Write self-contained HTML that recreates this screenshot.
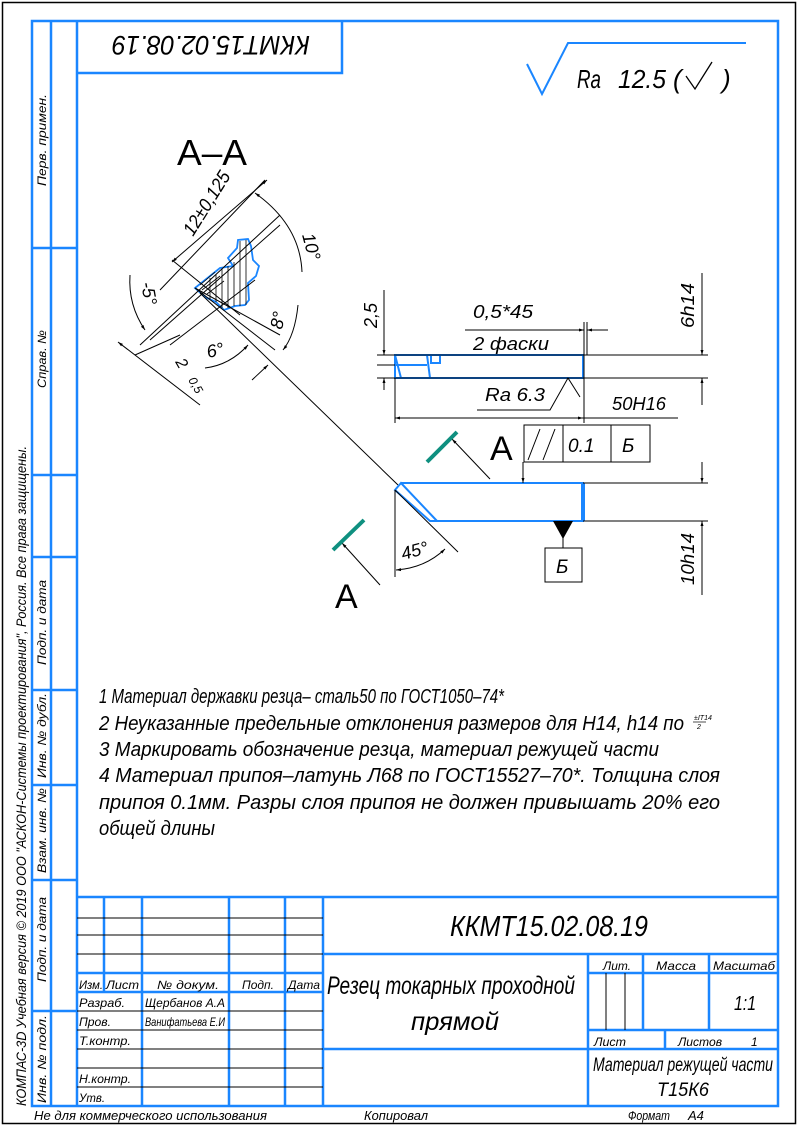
<!DOCTYPE html>
<html><head><meta charset="utf-8"><style>
html,body{margin:0;padding:0;background:#fff}
svg{display:block}
text{font-family:"Liberation Sans","DejaVu Sans",sans-serif;font-style:italic;fill:#000}
</style></head><body>
<svg width="798" height="1127" viewBox="0 0 798 1127" xmlns="http://www.w3.org/2000/svg">
<defs>
<marker id="ar" viewBox="0 0 10 10" refX="10" refY="5" markerWidth="10" markerHeight="5" orient="auto-start-reverse" markerUnits="userSpaceOnUse"><path d="M0,2 L10,5 L0,8 z" fill="#000"/></marker>
</defs>
<rect x="2.5" y="2.5" width="793" height="1121" fill="none" stroke="#000" stroke-width="1.5"/>
<g stroke="#1a86ff" stroke-width="2.5" fill="none">
<rect x="32" y="21" width="746" height="1085"/>
<line x1="51" y1="21" x2="51" y2="1106"/>
<line x1="77" y1="21" x2="77" y2="1106"/>
<line x1="32" y1="248" x2="77" y2="248"/>
<line x1="32" y1="475" x2="77" y2="475"/>
<line x1="32" y1="557" x2="77" y2="557"/>
<line x1="32" y1="690" x2="77" y2="690"/>
<line x1="32" y1="785" x2="77" y2="785"/>
<line x1="32" y1="880" x2="77" y2="880"/>
<line x1="32" y1="1011" x2="77" y2="1011"/>
<polyline points="77,73 342,73 342,21"/>
<line x1="77" y1="897" x2="778" y2="897"/>
<line x1="77" y1="973" x2="323" y2="973"/>
<line x1="77" y1="992" x2="323" y2="992"/>
<line x1="104" y1="897" x2="104" y2="992"/>
<line x1="142" y1="897" x2="142" y2="1106"/>
<line x1="229" y1="897" x2="229" y2="1106"/>
<line x1="285" y1="897" x2="285" y2="1106"/>
<line x1="323" y1="897" x2="323" y2="1106"/>
<line x1="323" y1="954" x2="778" y2="954"/>
<line x1="323" y1="1049" x2="778" y2="1049"/>
<line x1="588" y1="954" x2="588" y2="1106"/>
<line x1="588" y1="973" x2="778" y2="973"/>
<line x1="588" y1="1030" x2="778" y2="1030"/>
<line x1="643" y1="954" x2="643" y2="1030"/>
<line x1="709" y1="954" x2="709" y2="1030"/>
<line x1="665" y1="1030" x2="665" y2="1049"/>
</g>
<g stroke="#000" stroke-width="1">
<line x1="77" y1="918" x2="323" y2="918"/>
<line x1="77" y1="935" x2="323" y2="935"/>
<line x1="77" y1="954" x2="323" y2="954"/>
<line x1="77" y1="1011" x2="323" y2="1011"/>
<line x1="77" y1="1030" x2="323" y2="1030"/>
<line x1="77" y1="1049" x2="323" y2="1049"/>
<line x1="77" y1="1068" x2="323" y2="1068"/>
<line x1="77" y1="1087" x2="323" y2="1087"/>
<line x1="606" y1="973" x2="606" y2="1030"/>
<line x1="625" y1="973" x2="625" y2="1030"/>
</g>
<g font-size="12">
<text x="79" y="989" textLength="24" lengthAdjust="spacingAndGlyphs">Изм.</text>
<text x="106" y="989" textLength="33" lengthAdjust="spacingAndGlyphs">Лист</text>
<text x="157" y="989" textLength="62" lengthAdjust="spacingAndGlyphs">№ докум.</text>
<text x="242" y="989" textLength="32" lengthAdjust="spacingAndGlyphs">Подп.</text>
<text x="288" y="989" textLength="32" lengthAdjust="spacingAndGlyphs">Дата</text>
<text x="79" y="1007" textLength="46" lengthAdjust="spacingAndGlyphs">Разраб.</text>
<text x="145" y="1007" textLength="80" lengthAdjust="spacingAndGlyphs">Щербанов А.А</text>
<text x="79" y="1026" textLength="32" lengthAdjust="spacingAndGlyphs">Пров.</text>
<text x="145" y="1026" textLength="80" lengthAdjust="spacingAndGlyphs">Ванифатьева Е.И</text>
<text x="79" y="1045" textLength="52" lengthAdjust="spacingAndGlyphs">Т.контр.</text>
<text x="79" y="1083" textLength="52" lengthAdjust="spacingAndGlyphs">Н.контр.</text>
<text x="79" y="1102" textLength="26" lengthAdjust="spacingAndGlyphs">Утв.</text>
<text x="603" y="970" textLength="28" lengthAdjust="spacingAndGlyphs">Лит.</text>
<text x="656" y="970" textLength="40" lengthAdjust="spacingAndGlyphs">Масса</text>
<text x="713" y="970" textLength="62" lengthAdjust="spacingAndGlyphs">Масштаб</text>
<text x="594" y="1046" textLength="32" lengthAdjust="spacingAndGlyphs">Лист</text>
<text x="678" y="1046" textLength="44" lengthAdjust="spacingAndGlyphs">Листов</text>
<text x="751" y="1046">1</text>
<text x="34" y="1120" font-size="13" textLength="233" lengthAdjust="spacingAndGlyphs">Не для коммерческого использования</text>
<text x="364" y="1120" font-size="13" textLength="64" lengthAdjust="spacingAndGlyphs">Копировал</text>
<text x="628" y="1120" font-size="13" textLength="42" lengthAdjust="spacingAndGlyphs">Формат</text>
<text x="688" y="1120" font-size="13">А4</text>
</g>
<text x="450" y="936" font-size="29" textLength="198" lengthAdjust="spacingAndGlyphs">ККМТ15.02.08.19</text>
<text x="327" y="994" font-size="25" textLength="248" lengthAdjust="spacingAndGlyphs">Резец токарных проходной</text>
<text x="411" y="1030" font-size="25" textLength="88" lengthAdjust="spacingAndGlyphs">прямой</text>
<text x="734" y="1010" font-size="20" textLength="22" lengthAdjust="spacingAndGlyphs">1:1</text>
<text x="593" y="1071" font-size="19" textLength="180" lengthAdjust="spacingAndGlyphs">Материал режущей части</text>
<text x="657" y="1096" font-size="19" textLength="52" lengthAdjust="spacingAndGlyphs">Т15К6</text>
<text transform="translate(211,47) rotate(180)" x="-99" y="11" font-size="27" textLength="198" lengthAdjust="spacingAndGlyphs">ККМТ15.02.08.19</text>
<g font-size="12">
<text transform="translate(46,186) rotate(-90)" textLength="92" lengthAdjust="spacingAndGlyphs">Перв. примен.</text>
<text transform="translate(46,388) rotate(-90)" textLength="58" lengthAdjust="spacingAndGlyphs">Справ. №</text>
<text transform="translate(46,665) rotate(-90)" textLength="85" lengthAdjust="spacingAndGlyphs">Подп. и дата</text>
<text transform="translate(46,778) rotate(-90)" textLength="85" lengthAdjust="spacingAndGlyphs">Инв. № дубл.</text>
<text transform="translate(46,873) rotate(-90)" textLength="85" lengthAdjust="spacingAndGlyphs">Взам. инв. №</text>
<text transform="translate(46,982) rotate(-90)" textLength="85" lengthAdjust="spacingAndGlyphs">Подп. и дата</text>
<text transform="translate(46,1103) rotate(-90)" textLength="88" lengthAdjust="spacingAndGlyphs">Инв. № подл.</text>
<text transform="translate(26,1106) rotate(-90)" font-size="14" textLength="660" lengthAdjust="spacingAndGlyphs">КОМПАС-3D Учебная версия © 2019 ООО "АСКОН-Системы проектирования", Россия. Все права защищены.</text>
</g>
<polyline points="527,64 542,94 568,43 746,43" fill="none" stroke="#1a86ff" stroke-width="2"/>
<text x="577" y="88" font-size="26" textLength="24" lengthAdjust="spacingAndGlyphs">Ra</text>
<text x="618" y="88" font-size="26" textLength="48" lengthAdjust="spacingAndGlyphs">12.5</text>
<text x="673" y="88" font-size="26">(</text>
<text x="722" y="88" font-size="26">)</text>
<polyline points="686,76 695,89 712,62" fill="none" stroke="#000" stroke-width="1.3"/>
<text x="177" y="165" font-size="36" style="font-style:normal" textLength="70" lengthAdjust="spacingAndGlyphs">A–A</text>
<path d="M195,288 L220,268 L233,266 L228,258 L237,248 L238,240 L248,239 L251,246 L253,260 L259,266 L256,276 L248,283 L249,300 L245,305 L235,306 L224,310 L216,302 L205,297 Z" fill="none" stroke="#1a86ff" stroke-width="1.8"/>
<g stroke="#000" stroke-width="0.8">
<line x1="240" y1="241" x2="240" y2="306"/><line x1="234" y1="262" x2="234" y2="306"/><line x1="228" y1="266" x2="228" y2="308"/>
<line x1="222" y1="269" x2="222" y2="308"/><line x1="216" y1="274" x2="216" y2="302"/><line x1="210" y1="278" x2="210" y2="299"/><line x1="246" y1="240" x2="246" y2="305"/>
<line x1="200" y1="285" x2="215" y2="272"/><line x1="202" y1="290" x2="220" y2="276"/><line x1="207" y1="294" x2="224" y2="281"/>
</g>
<g stroke="#000" stroke-width="1" fill="none">
<line x1="200" y1="293" x2="398" y2="485"/>
<line x1="160" y1="290" x2="265" y2="180"/>
<line x1="172" y1="262" x2="267" y2="180" marker-end="url(#ar)" marker-start="url(#ar)"/>
<line x1="140" y1="345" x2="280" y2="215"/>
<line x1="150" y1="340" x2="280" y2="225"/>
<line x1="170" y1="345" x2="255" y2="280"/>
<line x1="172" y1="260" x2="240" y2="315"/>
<line x1="195" y1="288" x2="280" y2="335"/>
<line x1="195" y1="288" x2="275" y2="350"/>
<line x1="118" y1="342" x2="200" y2="405" marker-start="url(#ar)"/>
<line x1="135" y1="355" x2="180" y2="335"/>
<path d="M255,193 Q300,225 302,272" marker-start="url(#ar)"/>
<path d="M130,275 Q128,305 145,330" marker-end="url(#ar)"/>
<path d="M205,368 Q230,365 248,345" marker-end="url(#ar)"/>
<path d="M298,305 Q295,335 283,350" marker-end="url(#ar)"/>
<line x1="252" y1="380" x2="268" y2="365" marker-end="url(#ar)"/>
</g>
<text transform="translate(193,237) rotate(-58)" font-size="19" textLength="72" lengthAdjust="spacingAndGlyphs">12±0,125</text>
<text transform="translate(302,235) rotate(75)" font-size="18">10°</text>
<text transform="translate(141,283) rotate(80)" font-size="18">-5°</text>
<text transform="translate(208,358) rotate(-12)" font-size="18">6°</text>
<text transform="translate(282,330) rotate(-78)" font-size="18">8°</text>
<text transform="translate(175,362) rotate(60)" font-size="16">2</text>
<text transform="translate(188,380) rotate(60)" font-size="12">0,5</text>
<g stroke="#1a86ff" stroke-width="2" fill="none">
<rect x="395" y="355" width="188" height="23"/>
<line x1="395" y1="365" x2="427" y2="365"/>
<line x1="395" y1="355" x2="401" y2="378"/>
<line x1="427" y1="355" x2="430" y2="378"/>
<rect x="431" y="355" width="9" height="8"/>
</g>
<g stroke="#000" stroke-width="1" fill="none">
<line x1="377" y1="355" x2="708" y2="355"/>
<line x1="377" y1="378" x2="708" y2="378"/>
<line x1="377" y1="365" x2="395" y2="365"/>
<line x1="584" y1="322" x2="584" y2="423"/>
<line x1="587" y1="322" x2="587" y2="355"/>
<line x1="395" y1="378" x2="395" y2="423"/>
<line x1="395" y1="418" x2="583" y2="418" marker-start="url(#ar)" marker-end="url(#ar)"/>
<line x1="583" y1="418" x2="678" y2="418"/>
<line x1="384" y1="290" x2="384" y2="355" marker-end="url(#ar)"/>
<line x1="384" y1="390" x2="384" y2="378" marker-end="url(#ar)"/>
<line x1="465" y1="330" x2="584" y2="330" marker-end="url(#ar)"/>
<line x1="608" y1="330" x2="587" y2="330" marker-end="url(#ar)"/>
<polyline points="477,410 550,410 568,378 580,397"/>
<line x1="702" y1="273" x2="702" y2="355" marker-end="url(#ar)"/>
<line x1="702" y1="405" x2="702" y2="378" marker-end="url(#ar)"/>
</g>
<text transform="translate(377,328) rotate(-90)" font-size="18">2,5</text>
<text x="473" y="318" font-size="18" textLength="60" lengthAdjust="spacingAndGlyphs">0,5*45</text>
<text x="473" y="350" font-size="18" textLength="76" lengthAdjust="spacingAndGlyphs">2 фаски</text>
<text x="485" y="401" font-size="18" textLength="60" lengthAdjust="spacingAndGlyphs">Ra  6.3</text>
<text x="612" y="410" font-size="18" textLength="54" lengthAdjust="spacingAndGlyphs">50H16</text>
<text transform="translate(694,328) rotate(-90)" font-size="18" textLength="45" lengthAdjust="spacingAndGlyphs">6h14</text>
<g stroke="#1a86ff" stroke-width="2" fill="none">
<polyline points="401,483 583,483 583,521 430,521 395,490 401,483 437,521"/>
<line x1="583" y1="483" x2="583" y2="521" stroke-width="4"/>
</g>
<g stroke="#000" stroke-width="1" fill="none">
<line x1="583" y1="483" x2="708" y2="483"/>
<line x1="583" y1="521" x2="708" y2="521"/>
<line x1="702" y1="462" x2="702" y2="483" marker-end="url(#ar)"/>
<line x1="702" y1="595" x2="702" y2="521" marker-end="url(#ar)"/>
<line x1="395" y1="490" x2="395" y2="577"/>
<line x1="395" y1="490" x2="458" y2="552"/>
<path d="M396,570 Q425,568 445,549" marker-start="url(#ar)" marker-end="url(#ar)"/>
<rect x="524" y="425" width="126" height="37"/>
<line x1="563" y1="425" x2="563" y2="462"/>
<line x1="611" y1="425" x2="611" y2="462"/>
<line x1="528" y1="460" x2="540" y2="429"/><line x1="543" y1="460" x2="555" y2="429"/>
<line x1="523" y1="462" x2="523" y2="483" marker-end="url(#ar)"/>
<line x1="563" y1="530" x2="563" y2="548"/>
<rect x="545" y="548" width="37" height="34"/>
<line x1="490" y1="479" x2="452" y2="439" marker-end="url(#ar)"/>
<line x1="380" y1="585" x2="342" y2="543" marker-end="url(#ar)"/>
</g>
<polygon points="553,521 573,521 563,539" fill="#000"/>
<text transform="translate(403,560) rotate(-15)" font-size="18">45°</text>
<text x="568" y="452" font-size="19">0.1</text>
<text x="622" y="452" font-size="19">Б</text>
<text x="556" y="573" font-size="19">Б</text>
<text transform="translate(694,585) rotate(-90)" font-size="18" textLength="52" lengthAdjust="spacingAndGlyphs">10h14</text>
<text x="490" y="460" font-size="34" style="font-style:normal">A</text>
<text x="335" y="608" font-size="34" style="font-style:normal">A</text>
<line x1="427" y1="462" x2="457" y2="432" stroke="#0f9080" stroke-width="4"/>
<line x1="333" y1="550" x2="364" y2="520" stroke="#0f9080" stroke-width="4"/>
<g font-size="20">
<text x="99" y="703" textLength="405" lengthAdjust="spacingAndGlyphs">1 Материал державки резца– сталь50 по ГОСТ1050–74*</text>
<text x="99" y="730" textLength="585" lengthAdjust="spacingAndGlyphs">2 Неуказанные предельные отклонения размеров для H14, h14 по</text>
<text x="99" y="756" textLength="560" lengthAdjust="spacingAndGlyphs">3 Маркировать обозначение резца, материал режущей части</text>
<text x="99" y="782" textLength="621" lengthAdjust="spacingAndGlyphs">4 Материал припоя–латунь Л68 по ГОСТ15527–70*. Толщина слоя</text>
<text x="99" y="809" textLength="621" lengthAdjust="spacingAndGlyphs">припоя 0.1мм. Разры слоя припоя не должен привышать 20% его</text>
<text x="99" y="835" textLength="116" lengthAdjust="spacingAndGlyphs">общей длины</text>
</g>
<text x="694" y="720" font-size="7">±IT14</text>
<line x1="693" y1="722" x2="706" y2="722" stroke="#000" stroke-width="0.7"/>
<text x="697" y="729" font-size="7">2</text>
</svg>
</body></html>
